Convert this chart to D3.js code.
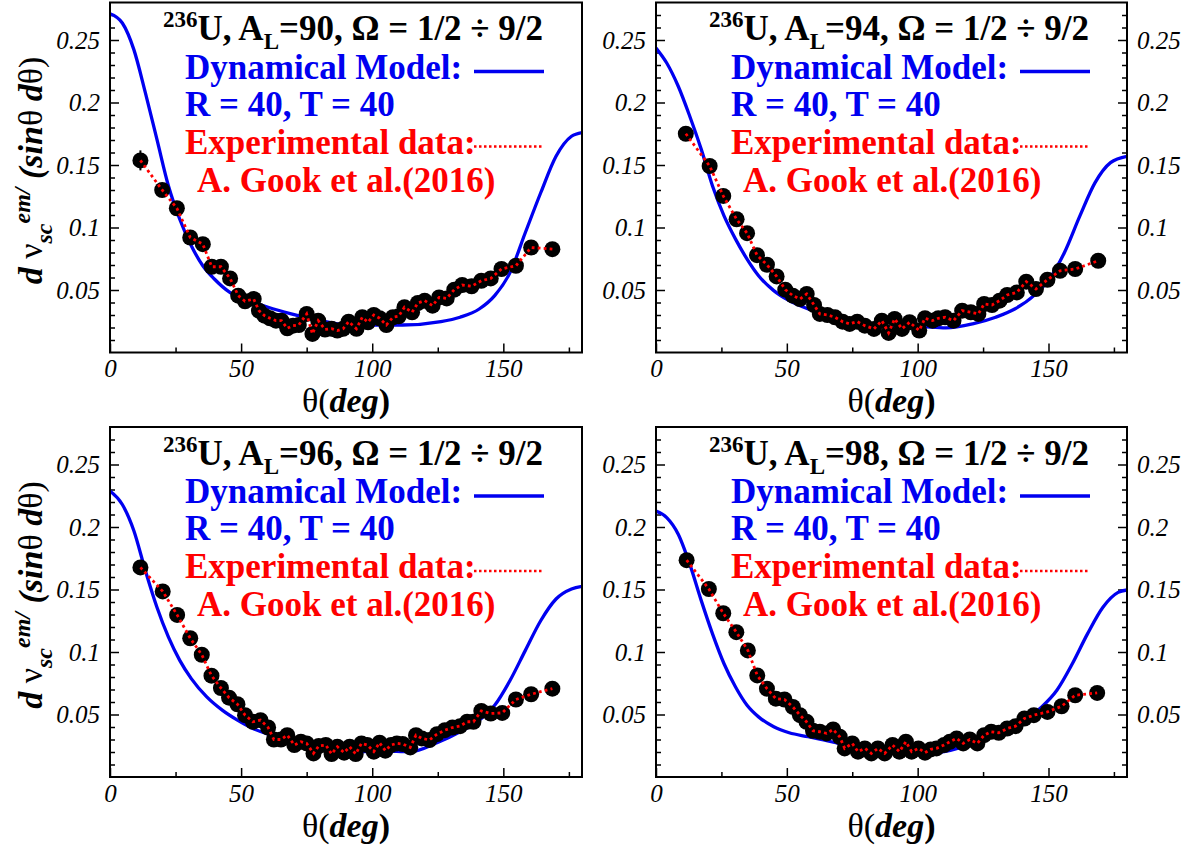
<!DOCTYPE html>
<html>
<head>
<meta charset="utf-8">
<script src="https://cdn.jsdelivr.net/npm/d3@7"></script>
<style>
  body { margin: 0; background: #fff; }
  svg { display: block; }
</style>
</head>
<body>
<svg id="chart" width="1189" height="846"></svg>
<script>
// ---- data ----
var massNumbers = [90, 94, 96, 98];
var yTicks = [0.05, 0.1, 0.15, 0.2, 0.25];
var yMinorTicks = [0.01, 0.02, 0.03, 0.04, 0.06, 0.07, 0.08, 0.09, 0.11, 0.12, 0.13, 0.14,
  0.16, 0.17, 0.18, 0.19, 0.21, 0.22, 0.23, 0.24, 0.26, 0.27];
var xTicks = [0, 50, 100, 150];
var xMinorTicks = [25, 75, 125, 175];

// dynamical model, A_L = 90
var model90Theta = [0, 4.7, 9.1, 13.5, 17.9, 22.3, 26.6, 31, 35.4, 39.8, 45.7, 53, 60.3, 69.1, 77.9, 86.7, 92.5, 99.9, 111.6, 126.2, 133.5, 140.8, 146.7, 152.6, 158.4, 164.3, 170.1, 176, 180];
var model90Val = [0.271, 0.2636, 0.2423, 0.2077, 0.1705, 0.1332, 0.1066, 0.0854, 0.0694, 0.0588, 0.0481, 0.0415, 0.0362, 0.0309, 0.0263, 0.0229, 0.0205, 0.022, 0.022, 0.0247, 0.0282, 0.0348, 0.0455, 0.0641, 0.096, 0.128, 0.157, 0.173, 0.176];
// experimental data (A. Gook et al. 2016), A_L = 90
var data90Theta = [11.6, 19.9, 25.5, 30.6, 35.4, 38.8, 42.3, 45.8, 48.9, 51.5, 54.8, 56.8, 58.9, 61, 63.3, 65.4, 67.6, 69.8, 72, 75, 77.2, 79.4, 82, 84.5, 86.7, 88.9, 91, 94, 96.2, 98.4, 100.6, 102.8, 105.4, 107.9, 110.1, 112.3, 115.2, 117.4, 120, 123, 125.5, 128.4, 131.3, 134.3, 137.9, 141.6, 145.2, 149.3, 154.8, 160.6, 168.7];
var data90Val = [0.1537, 0.130, 0.1154, 0.092, 0.0867, 0.0686, 0.0686, 0.0593, 0.0455, 0.041, 0.0428, 0.0335, 0.0295, 0.0274, 0.0255, 0.0255, 0.0194, 0.0215, 0.022, 0.0309, 0.0149, 0.0255, 0.0184, 0.019, 0.0176, 0.019, 0.0247, 0.019, 0.0282, 0.0242, 0.03, 0.0274, 0.022, 0.0282, 0.029, 0.0362, 0.0322, 0.0396, 0.0415, 0.0375, 0.0441, 0.0433, 0.0503, 0.054, 0.053, 0.0574, 0.0593, 0.0668, 0.0694, 0.084, 0.0827];
var data90Err = [0.008, 0.005, 0.005];

// A_L = 94
var model94Theta = [0, 4.1, 8.5, 12.9, 17.3, 21.6, 26, 30.4, 34.8, 39.2, 45, 50.9, 58.2, 67, 77.2, 86, 91.8, 99.1, 110.8, 121, 129.8, 137.1, 144.4, 150.3, 156.1, 162, 167.8, 173.7, 180];
var model94Val = [0.2436, 0.2316, 0.213, 0.189, 0.1625, 0.1332, 0.1093, 0.0907, 0.0747, 0.0614, 0.0495, 0.0415, 0.0348, 0.0295, 0.0247, 0.021, 0.0202, 0.021, 0.0197, 0.0229, 0.0282, 0.0348, 0.0455, 0.0588, 0.08, 0.1093, 0.1359, 0.1519, 0.157];
var data94Theta = [11.4, 20.5, 25.7, 30.8, 34.8, 38.6, 42.4, 46.1, 49.4, 52.3, 55, 57.6, 60.4, 62.6, 65.5, 68.4, 71.3, 74, 76.9, 79.8, 83.3, 86.3, 88.9, 91.2, 94, 96.9, 100.6, 102.8, 105.7, 107.9, 110.5, 113.7, 117, 120.3, 123.2, 125.4, 128.4, 131.3, 134.2, 137.9, 141.5, 145.2, 149.6, 154.4, 160.2, 169];
var data94Val = [0.175, 0.1492, 0.1253, 0.1066, 0.0955, 0.0779, 0.0702, 0.0609, 0.0503, 0.0455, 0.0428, 0.0468, 0.038, 0.0309, 0.03, 0.0282, 0.0247, 0.0229, 0.0247, 0.0215, 0.0189, 0.0255, 0.0157, 0.0269, 0.0189, 0.0242, 0.0176, 0.0274, 0.0255, 0.0274, 0.0282, 0.0255, 0.0335, 0.0322, 0.0309, 0.0388, 0.038, 0.0415, 0.046, 0.0481, 0.0567, 0.0508, 0.0582, 0.0654, 0.0668, 0.0734];
var data94Err = [0.005, 0.004];

// A_L = 96
var model96Theta = [0, 4.7, 9.1, 13.5, 17.9, 22.3, 26.6, 31, 36.9, 42.8, 48.6, 54.5, 60.3, 69.1, 77.9, 86.7, 94, 104.2, 114.5, 124.7, 133.5, 140.8, 146.7, 152.6, 158.4, 164.3, 170.1, 176, 180];
var model96Val = [0.2288, 0.218, 0.197, 0.165, 0.1358, 0.1119, 0.0933, 0.0787, 0.0641, 0.0535, 0.0455, 0.0388, 0.0343, 0.0295, 0.0248, 0.0208, 0.0203, 0.0208, 0.0203, 0.0274, 0.0362, 0.0455, 0.0574, 0.0774, 0.1013, 0.1252, 0.1424, 0.1504, 0.1525];
var data96Theta = [11.6, 20.1, 25.6, 30.6, 35, 38.7, 42.3, 45.4, 48.6, 51.5, 54.5, 57.4, 60.3, 62.5, 65.2, 67.6, 70.3, 72.8, 75, 77.6, 79.6, 82.3, 84.5, 86.7, 89.3, 91.4, 93.7, 95.9, 98.1, 100.6, 102.8, 105, 107.2, 109.4, 111.6, 114.5, 116.7, 118.9, 121.8, 124.7, 127.7, 130.6, 133.5, 136.2, 138.6, 141.6, 145.2, 149.6, 154.8, 160.6, 168.7];
var data96Val = [0.1677, 0.1485, 0.1297, 0.111, 0.0978, 0.0811, 0.0712, 0.0635, 0.0582, 0.0495, 0.0442, 0.0455, 0.0396, 0.03, 0.03, 0.0335, 0.0256, 0.0282, 0.0269, 0.0189, 0.0248, 0.0256, 0.0184, 0.0242, 0.0195, 0.0242, 0.0184, 0.0269, 0.0256, 0.0203, 0.0274, 0.0211, 0.0256, 0.0269, 0.0264, 0.0237, 0.0335, 0.0309, 0.0296, 0.0343, 0.0375, 0.0396, 0.0407, 0.0442, 0.0442, 0.0529, 0.0508, 0.0513, 0.062, 0.0662, 0.0707];
var data96Err = [0.005, 0.004];

// A_L = 98
var model98Theta = [0, 4.1, 8.5, 12.9, 17.3, 21.6, 26, 30.4, 34.8, 39.2, 45, 50.9, 58.2, 67, 77.2, 86, 94.7, 100.6, 106.4, 115.2, 124, 132.7, 141.5, 147.4, 153.2, 159.1, 164.9, 170.8, 176.6, 180];
var model98Val = [0.2128, 0.2075, 0.1942, 0.1703, 0.1411, 0.1145, 0.0906, 0.072, 0.0574, 0.0481, 0.0402, 0.0354, 0.0322, 0.0282, 0.0229, 0.0203, 0.0211, 0.0203, 0.0195, 0.0229, 0.03, 0.0375, 0.0468, 0.0561, 0.0694, 0.0906, 0.1145, 0.1358, 0.1477, 0.1496];
var data98Theta = [11.7, 20.2, 25.7, 30.7, 35.1, 38.7, 42.4, 45.8, 49.1, 52.3, 55, 57.5, 60, 62.6, 65.2, 67.7, 70.2, 72.1, 75, 77.2, 79.8, 82.3, 84.8, 87.4, 90.4, 93, 95.5, 97.7, 100.3, 102.8, 105, 107.2, 110.1, 112.3, 114.9, 117.4, 119.9, 122.8, 125.4, 128.1, 131, 134.2, 137.4, 140.8, 144.4, 149.6, 155, 160.2, 168.6];
var data98Val = [0.1735, 0.1504, 0.131, 0.1159, 0.1013, 0.0813, 0.0707, 0.0627, 0.062, 0.0561, 0.0495, 0.0442, 0.037, 0.0362, 0.0349, 0.038, 0.0322, 0.0229, 0.0269, 0.0203, 0.0229, 0.0189, 0.0229, 0.0189, 0.0256, 0.0203, 0.0282, 0.0203, 0.0229, 0.0195, 0.0221, 0.0229, 0.0256, 0.0282, 0.0309, 0.0269, 0.03, 0.0269, 0.0335, 0.0362, 0.0354, 0.0388, 0.0407, 0.0468, 0.0495, 0.0521, 0.0566, 0.0654, 0.0673];
var data98Err = [0.005, 0.004];

var panels = [
  { al: massNumbers[0], mt: model90Theta, mv: model90Val, dt: data90Theta, dv: data90Val, de: data90Err, col: 0, row: 0 },
  { al: massNumbers[1], mt: model94Theta, mv: model94Val, dt: data94Theta, dv: data94Val, de: data94Err, col: 1, row: 0 },
  { al: massNumbers[2], mt: model96Theta, mv: model96Val, dt: data96Theta, dv: data96Val, de: data96Err, col: 0, row: 1 },
  { al: massNumbers[3], mt: model98Theta, mv: model98Val, dt: data98Theta, dv: data98Val, de: data98Err, col: 1, row: 1 }
];

var FONT = "'Liberation Serif', 'Times New Roman', serif";
var svg = d3.select("#chart").style("font-family", FONT);
var colX = [[110, 582], [656, 1127]];
var rowY = [[2.5, 352.5], [427, 777]];
var fmtY = d => String(+d.toFixed(2));
var LEG = 35; // legend / title font size

panels.forEach(function(p) {
  var x0 = colX[p.col][0], x1 = colX[p.col][1];
  var y0 = rowY[p.row][0], y1 = rowY[p.row][1];
  var x = d3.scaleLinear().domain([0, 180]).range([x0, x1]);
  var y = d3.scaleLinear().domain([0, 0.28]).range([y1, y0]);
  var g = svg.append("g");

  // axes, ticks pointing inward
  g.append("g").attr("transform", "translate(" + x0 + ",0)")
    .call(d3.axisLeft(y).tickValues(yTicks).tickSize(-9).tickPadding(10).tickFormat(fmtY));
  g.append("g").attr("transform", "translate(" + x0 + ",0)")
    .call(d3.axisLeft(y).tickValues(yMinorTicks).tickSize(-5).tickFormat(""));
  if (p.col === 1) {
    g.append("g").attr("transform", "translate(" + x1 + ",0)")
      .call(d3.axisRight(y).tickValues(yTicks).tickSize(-9).tickPadding(10).tickFormat(fmtY));
    g.append("g").attr("transform", "translate(" + x1 + ",0)")
      .call(d3.axisRight(y).tickValues(yMinorTicks).tickSize(-5).tickFormat(""));
  }
  g.append("g").attr("transform", "translate(0," + y1 + ")")
    .call(d3.axisBottom(x).tickValues(xTicks).tickSize(-9).tickPadding(7).tickFormat(d3.format("d")));
  g.append("g").attr("transform", "translate(0," + y1 + ")")
    .call(d3.axisBottom(x).tickValues(xMinorTicks).tickSize(-5).tickFormat(""));
  g.selectAll(".domain").remove();
  g.selectAll("g").attr("font-family", null).attr("font-size", 25);
  g.selectAll(".tick line").attr("stroke", "#000").attr("stroke-width", 1.5);
  g.selectAll(".tick text").attr("fill", "#000").style("font-family", FONT).attr("font-style", "italic");

  // model curve
  var clip = "clip" + p.al;
  g.append("clipPath").attr("id", clip).append("rect")
    .attr("x", x0).attr("y", y0).attr("width", x1 - x0).attr("height", y1 - y0);
  g.append("path")
    .datum(p.mt.map((t, i) => [t, p.mv[i]]))
    .attr("clip-path", "url(#" + clip + ")")
    .attr("fill", "none").attr("stroke", "#0000f0").attr("stroke-width", 3.3)
    .attr("d", d3.line().x(d => x(d[0])).y(d => y(d[1])).curve(d3.curveMonotoneX));

  // experimental points
  var pts = p.dt.map((t, i) => [t, p.dv[i]]);
  g.selectAll(".err").data(p.de).enter().append("line")
    .attr("x1", (e, i) => x(pts[i][0])).attr("x2", (e, i) => x(pts[i][0]))
    .attr("y1", (e, i) => y(pts[i][1] - e)).attr("y2", (e, i) => y(pts[i][1] + e))
    .attr("stroke", "#000").attr("stroke-width", 2);
  g.selectAll(".pt").data(pts).enter().append("circle")
    .attr("cx", d => x(d[0])).attr("cy", d => y(d[1])).attr("r", 8).attr("fill", "#000");
  g.append("path").datum(pts)
    .attr("fill", "none").attr("stroke", "#ff0000").attr("stroke-width", 2.8)
    .attr("stroke-dasharray", "2.8,3.2")
    .attr("d", d3.line().x(d => x(d[0])).y(d => y(d[1])));

  // frame
  g.append("rect").attr("x", x0).attr("y", y0).attr("width", x1 - x0).attr("height", y1 - y0)
    .attr("fill", "none").attr("stroke", "#000").attr("stroke-width", 2);

  // title and legend
  var t = g.append("text").attr("x", x0 + 53).attr("y", y0 + 37.5)
    .attr("font-weight", "bold").attr("font-size", LEG).attr("fill", "#000");
  t.append("tspan").attr("font-size", 23).attr("dy", -13).text("236");
  t.append("tspan").attr("dy", 13).text("U, A");
  t.append("tspan").attr("font-size", 23).attr("dy", 9).text("L");
  t.append("tspan").attr("dy", -9).text("=" + p.al + ", \u03A9 = 1/2 \u00F7 9/2");

  g.append("text").attr("x", x0 + 75).attr("y", y0 + 76)
    .attr("font-weight", "bold").attr("font-size", LEG).attr("fill", "#0000f0")
    .text("Dynamical Model:");
  g.append("line").attr("x1", x0 + 364).attr("x2", x0 + 434)
    .attr("y1", y0 + 69).attr("y2", y0 + 69)
    .attr("stroke", "#0000f0").attr("stroke-width", 3.3);
  g.append("text").attr("x", x0 + 75).attr("y", y0 + 113)
    .attr("font-weight", "bold").attr("font-size", LEG).attr("fill", "#0000f0")
    .text("R = 40, T = 40");
  g.append("text").attr("x", x0 + 75).attr("y", y0 + 151)
    .attr("font-weight", "bold").attr("font-size", LEG).attr("fill", "#ff0000")
    .text("Experimental data:");
  g.append("line").attr("x1", x0 + 364).attr("x2", x0 + 434)
    .attr("y1", y0 + 144).attr("y2", y0 + 144)
    .attr("stroke", "#ff0000").attr("stroke-width", 2.5).attr("stroke-dasharray", "2.5,2.5");
  g.append("text").attr("x", x0 + 87).attr("y", y0 + 189)
    .attr("font-weight", "bold").attr("font-size", LEG).attr("fill", "#ff0000")
    .text("A. Gook et al.(2016)");

  // x axis title
  var xt = g.append("text").attr("x", (x0 + x1) / 2).attr("y", y1 + 59.5)
    .attr("text-anchor", "middle").attr("font-size", 34).attr("fill", "#000");
  xt.append("tspan").text("\u03B8(");
  xt.append("tspan").attr("font-weight", "bold").attr("font-style", "italic").text("deg");
  xt.append("tspan").attr("font-weight", "bold").text(")");

  // y axis title (left column only)
  if (p.col === 0) {
    var yt = g.append("text")
      .attr("transform", "translate(42," + (y0 + 168) + ") rotate(-90)")
      .attr("text-anchor", "middle").attr("font-size", 34).attr("fill", "#000")
      .attr("font-weight", "bold").attr("font-style", "italic");
    yt.append("tspan").text("d ");
    yt.append("tspan").attr("font-weight", "normal").attr("font-style", "normal").text("\u03BD");
    yt.append("tspan").attr("font-size", 24).attr("dy", 10).text("sc");
    yt.append("tspan").attr("font-size", 24).attr("dy", -22).text("em/");
    yt.append("tspan").attr("dy", 12).text(" (sin");
    yt.append("tspan").attr("font-weight", "normal").attr("font-style", "normal").text("\u03B8");
    yt.append("tspan").text(" d");
    yt.append("tspan").attr("font-weight", "normal").attr("font-style", "normal").text("\u03B8)");
  }
});
</script>
</body>
</html>
